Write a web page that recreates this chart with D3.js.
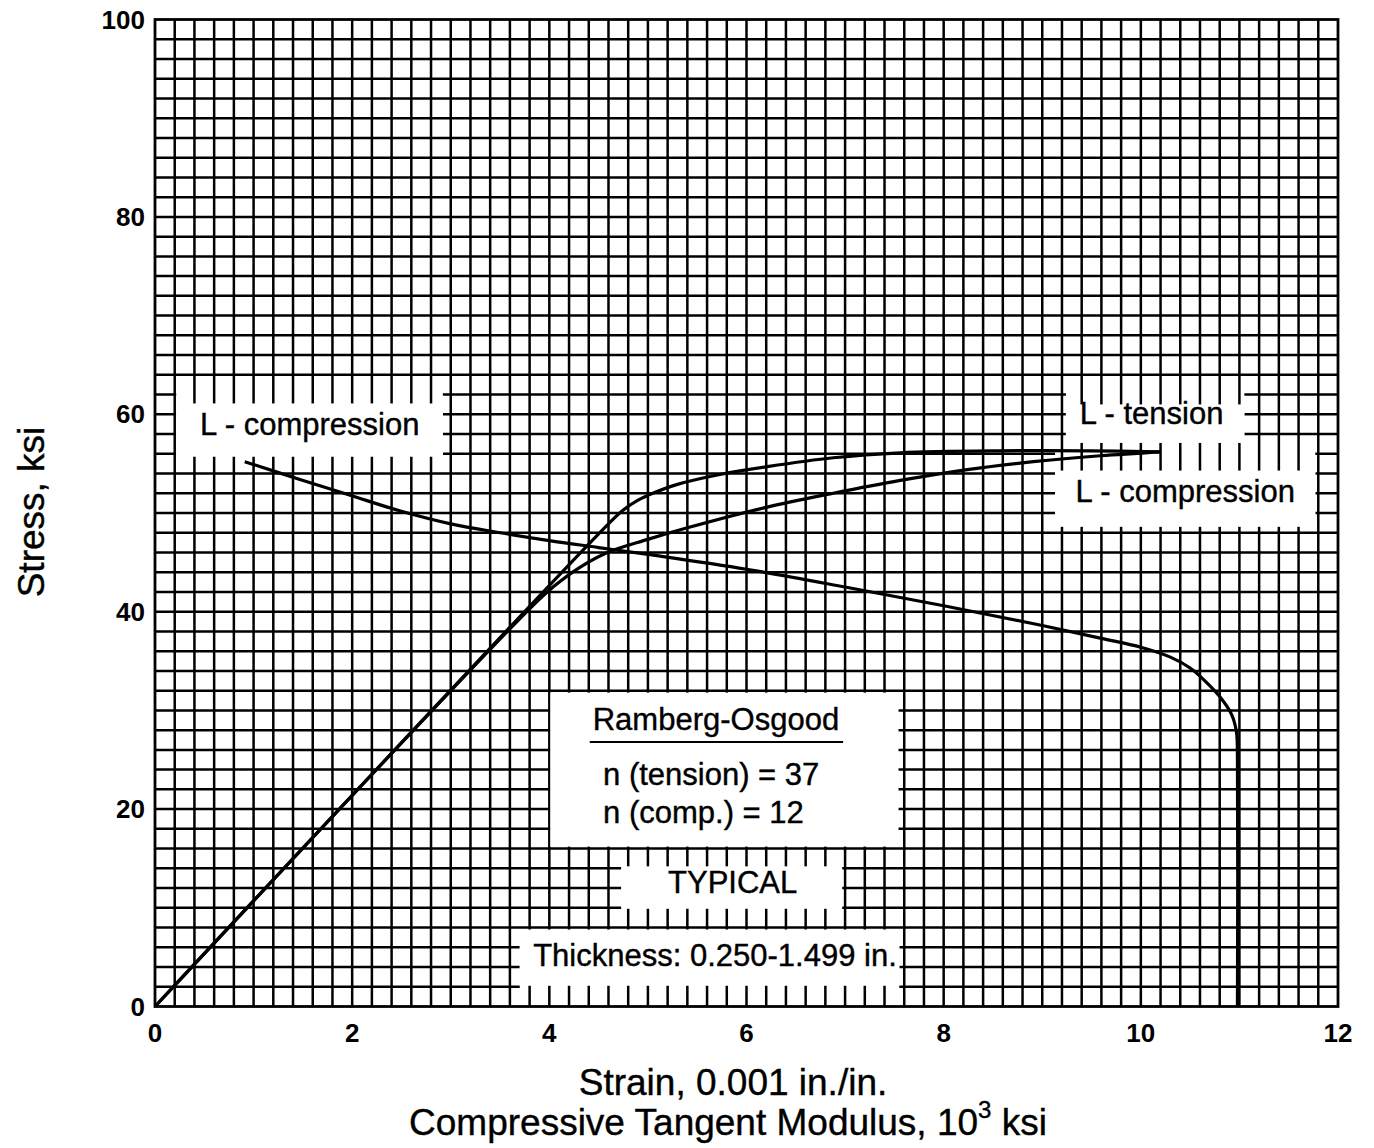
<!DOCTYPE html>
<html lang="en">
<head>
<meta charset="UTF-8">
<script src="https://d3js.org/d3.v7.min.js"></script>
<style>
  body { margin: 0; background: #fff; }
  text { font-family: "Liberation Sans", Arial, sans-serif; fill: #000; }
</style>
</head>
<body>
<div id="chart"></div>
<script>
// ---- data ----
const xTicks = [0, 2, 4, 6, 8, 10, 12];
const yTicks = [0, 20, 40, 60, 80, 100];

// stress-strain, L-tension (strain 0.001 in./in., stress ksi)
const tensionCurve = [
  [0, 0], [4.6, 48.9], [4.75, 50.3], [4.9, 51.3], [5.05, 52.0], [5.3, 52.9],
  [5.73, 53.9], [6.21, 54.7], [6.88, 55.6], [7.56, 56.1], [8.57, 56.3],
  [9.5, 56.3], [10.2, 56.2]
];

// stress-strain, L-compression
const compressionCurve = [
  [0, 0], [3.8, 40.3], [4.05, 42.6], [4.31, 44.5], [4.59, 46.0], [4.99, 47.3],
  [5.4, 48.5], [6.21, 50.6], [6.88, 52.0], [7.56, 53.3], [8.24, 54.4],
  [8.91, 55.2], [9.59, 55.8], [10.2, 56.2]
];

// compressive tangent modulus, L-compression (10^3 ksi, stress ksi)
const tangentCurve = [
  [0.91, 55.2], [1.47, 53.4], [1.98, 51.8], [2.49, 50.2], [3.0, 48.9],
  [3.5, 48.0], [4.0, 47.2], [4.5, 46.5], [5.0, 45.8], [6.0, 44.3],
  [7.0, 42.5], [8.0, 40.6], [9.0, 38.6], [9.6, 37.3], [10.0, 36.4],
  [10.3, 35.4], [10.5, 34.3], [10.65, 33.0], [10.8, 31.4], [10.92, 29.6],
  [10.97, 27.8], [10.98, 25], [10.98, 0]
];

// ---- layout ----
const W = 1374, H = 1148;
const x = d3.scaleLinear().domain([0, 12]).range([155, 1338]);
const y = d3.scaleLinear().domain([0, 100]).range([1006.5, 19.5]);

// white label panels: h hides the horizontal rules, v hides the vertical ones
// [x0, x1, yTop, yBottom] in data units
const panels = [
  { h: [0.215, 2.92, 63.1, 55.1], v: [0.215, 2.92, 61.1, 55.7] },   // L - compression (left)
  { h: [9.24, 11.05, 63.0, 57.0], v: [9.24, 11.05, 61.0, 57.1] },   // L - tension
  { h: [9.13, 11.77, 57.0, 49.1], v: [9.13, 11.77, 54.3, 48.6] },   // L - compression (right)
  { h: [4.01, 7.54, 31.8, 16.2], v: [4.01, 7.54, 31.8, 16.2] },     // Ramberg-Osgood
  { h: [4.73, 6.97, 15.0, 9.0], v: [4.73, 6.97, 14.2, 9.9] },       // TYPICAL
  { h: [3.7, 7.55, 7.0, 1.0], v: [3.7, 7.55, 7.8, 2.1] }            // Thickness
];

const labels = [
  { text: "L - compression", x: 1.57, y: 57.95, anchor: "middle" },
  { text: "L - tension", x: 10.11, y: 59.0, anchor: "middle" },
  { text: "L - compression", x: 10.45, y: 51.1, anchor: "middle" },
  { text: "Ramberg-Osgood", x: 5.69, y: 28.0, anchor: "middle" },
  { text: "n (tension) = 37", x: 4.545, y: 22.4, anchor: "start" },
  { text: "n (comp.) = 12", x: 4.545, y: 18.6, anchor: "start" },
  { text: "TYPICAL", x: 5.86, y: 11.5, anchor: "middle" },
  { text: "Thickness: 0.250-1.499 in.", x: 5.68, y: 4.1, anchor: "middle" }
];

const svg = d3.select("#chart").append("svg")
  .attr("width", W).attr("height", H);

svg.append("rect").attr("width", W).attr("height", H).attr("fill", "#fff");

const gridRows = d3.range(1, 50).map(i => i * 2);
const gridCols = d3.range(1, 60).map(i => i * 0.2);

function drawPanels(key) {
  svg.append("g").selectAll("rect")
    .data(panels)
    .join("rect")
    .attr("x", d => x(d[key][0]))
    .attr("width", d => x(d[key][1]) - x(d[key][0]))
    .attr("y", d => y(d[key][2]))
    .attr("height", d => y(d[key][3]) - y(d[key][2]))
    .attr("fill", "#fff");
}

// horizontal rules
svg.append("g").selectAll("line")
  .data(gridRows)
  .join("line")
  .attr("x1", x(0)).attr("x2", x(12))
  .attr("y1", d => y(d)).attr("y2", d => y(d))
  .attr("stroke", "#000").attr("stroke-width", 2.5);

drawPanels("h");

// vertical rules
svg.append("g").selectAll("line")
  .data(gridCols)
  .join("line")
  .attr("y1", y(0)).attr("y2", y(100))
  .attr("x1", d => x(d)).attr("x2", d => x(d))
  .attr("stroke", "#000").attr("stroke-width", 2.5);

drawPanels("v");

// frame
svg.append("rect")
  .attr("x", x(0)).attr("y", y(100))
  .attr("width", x(12) - x(0)).attr("height", y(0) - y(100))
  .attr("fill", "none").attr("stroke", "#000").attr("stroke-width", 2.8);

// curves
const line = d3.line()
  .x(d => x(d[0])).y(d => y(d[1]))
  .curve(d3.curveCatmullRom.alpha(0.5));

svg.append("g").selectAll("path")
  .data([tensionCurve, compressionCurve, tangentCurve])
  .join("path")
  .attr("d", line)
  .attr("fill", "none")
  .attr("stroke", "#000")
  .attr("stroke-width", 3.2)
  .attr("stroke-linejoin", "round");

// labels
svg.append("g").selectAll("text")
  .data(labels)
  .join("text")
  .attr("x", d => x(d.x)).attr("y", d => y(d.y))
  .attr("text-anchor", d => d.anchor)
  .attr("font-size", 31)
  .attr("stroke", "#000").attr("stroke-width", 0.4)
  .text(d => d.text);

svg.append("line")
  .attr("x1", x(4.41)).attr("x2", x(6.98))
  .attr("y1", y(26.8)).attr("y2", y(26.8))
  .attr("stroke", "#000").attr("stroke-width", 2.2);

// tick labels
svg.append("g").selectAll("text")
  .data(xTicks)
  .join("text")
  .attr("x", d => x(d)).attr("y", 1042)
  .attr("text-anchor", "middle")
  .attr("font-size", 26).attr("font-weight", "bold")
  .text(d => d);

svg.append("g").selectAll("text")
  .data(yTicks)
  .join("text")
  .attr("x", 145).attr("y", d => y(d) + 9)
  .attr("text-anchor", "end")
  .attr("font-size", 26).attr("font-weight", "bold")
  .text(d => d);

// axis titles
svg.append("text")
  .attr("transform", "translate(44,512) rotate(-90)")
  .attr("text-anchor", "middle")
  .attr("font-size", 37)
  .attr("stroke", "#000").attr("stroke-width", 0.4)
  .text("Stress, ksi");

svg.append("text")
  .attr("x", 733).attr("y", 1095)
  .attr("text-anchor", "middle")
  .attr("font-size", 37)
  .attr("stroke", "#000").attr("stroke-width", 0.4)
  .text("Strain, 0.001 in./in.");

const t2 = svg.append("text")
  .attr("x", 728).attr("y", 1135)
  .attr("text-anchor", "middle")
  .attr("font-size", 37)
  .attr("stroke", "#000").attr("stroke-width", 0.4);
t2.append("tspan").text("Compressive Tangent Modulus, 10");
t2.append("tspan").attr("font-size", 24).attr("dy", -17).text("3");
t2.append("tspan").attr("dy", 17).text(" ksi");
</script>
</body>
</html>
